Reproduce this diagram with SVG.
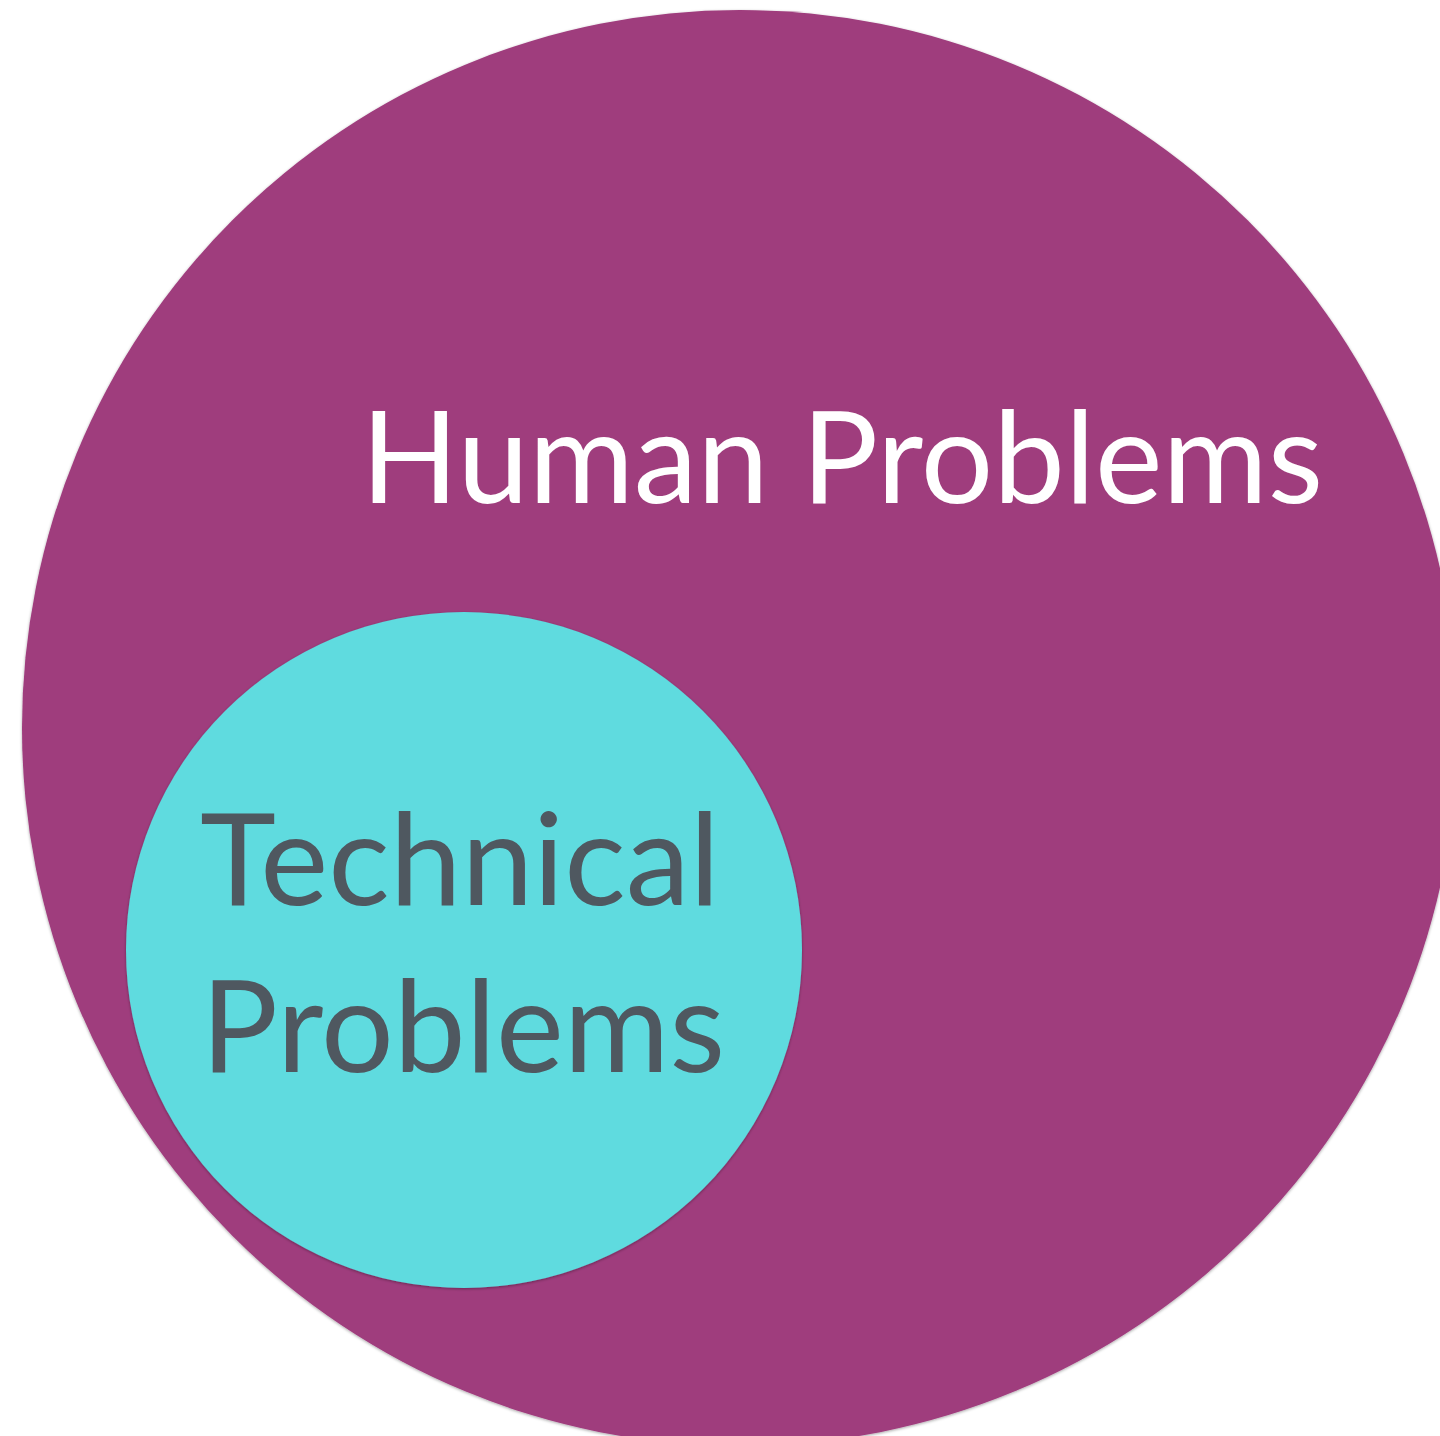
<svg xmlns="http://www.w3.org/2000/svg" width="1440" height="1436" viewBox="0 0 1440 1436">
<defs>
<filter id="sh" x="-5%" y="-5%" width="110%" height="110%">
<feDropShadow dx="0" dy="1" stdDeviation="1.5" flood-color="#000" flood-opacity="0.35"/>
</filter>
</defs>
<style>
.lbl{font-family:Lato,"Open Sans","Noto Sans",sans-serif;font-size:128px;}
</style>
<rect width="1440" height="1436" fill="#ffffff"/>
<g id="human">
<circle cx="740" cy="728" r="718" fill="#9F3C7D" filter="url(#sh)"/>
<text class="lbl" x="361" y="503" fill="#ffffff" textLength="962" lengthAdjust="spacingAndGlyphs">Human Problems</text>
</g>
<g id="technical">
<circle cx="464" cy="950" r="338" fill="#5FDBDF" filter="url(#sh)"/>
<text class="lbl" x="200" y="905" fill="#4F5860" textLength="520" lengthAdjust="spacingAndGlyphs">Technical</text>
<text class="lbl" x="201" y="1072" fill="#4F5860" textLength="524" lengthAdjust="spacingAndGlyphs">Problems</text>
</g>
<g id="connectors"/>
</svg>
